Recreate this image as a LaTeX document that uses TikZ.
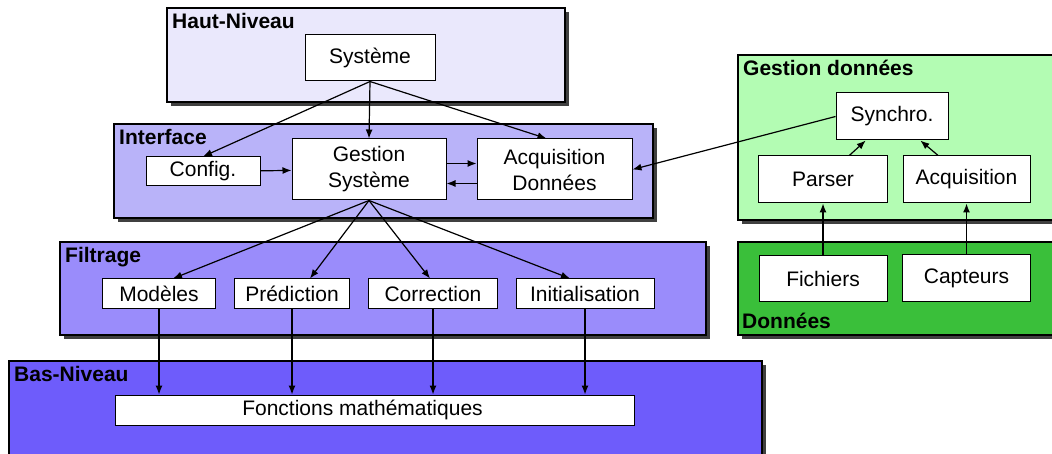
\documentclass[tikz,border=0pt]{standalone}
\usepackage{fontspec}
\setmainfont{Liberation Sans}
\usetikzlibrary{arrows.meta,shadows}
\definecolor{layerhaut}{HTML}{EAE8FC}
\definecolor{layerinterface}{HTML}{B9B3F9}
\definecolor{layerfiltrage}{HTML}{9A8CFB}
\definecolor{layerbas}{HTML}{6E5CFB}
\definecolor{layergestion}{HTML}{B3FCB3}
\definecolor{layerdonnees}{HTML}{3ABF3A}

\begin{document}
\begin{tikzpicture}[
  x=1pt,
  y=-1pt,
  every node/.style={font=\fontsize{21}{26}\selectfont, black},
  panel/.style={draw=black, line width=1.5pt,
                drop shadow={shadow xshift=4pt, shadow yshift=-4pt,
                             fill=black, opacity=0.75}},
  title/.style={font=\fontsize{21}{26}\selectfont\bfseries,
                anchor=north west, inner sep=5pt},
  block/.style={draw=black, fill=white, line width=1pt, align=center,
                inner sep=0pt},
  link/.style={black, line width=1.2pt, -{Latex[length=9pt, width=7pt]}}
]
  % ---- page frame -------------------------------------------------------
  \useasboundingbox (0,0) rectangle (1052,454);

  % ---- the layers --------------------------------------------------------
  \draw[panel, fill=layerhaut]      (167,8)   rectangle (565,102);
  \draw[panel, fill=layerinterface] (114,124) rectangle (653,218);
  \draw[panel, fill=layerfiltrage]  (60,242)  rectangle (706,335);
  \draw[panel, fill=layerbas]       (9,361)   rectangle (762,480);
  \draw[panel, fill=layergestion]   (738,55)  rectangle (1070,220);
  \draw[panel, fill=layerdonnees]   (738,242) rectangle (1070,335);

  \node[title] (thaut)      at (167,8)   {Haut-Niveau};
  \node[title] (tinterface) at (114,124) {Interface};
  \node[title] (tfiltrage)  at (60,242)  {Filtrage};
  \node[title] (tbas)       at (9,361)   {Bas-Niveau};
  \node[title] (tgestion)   at (738,55)  {Gestion données};
  \node[title, anchor=south west, inner sep=4pt] (tdonnees) at (738,333)
    {Données};

  % ---- blocks ------------------------------------------------------------
  \node[block, minimum width=130pt, minimum height=46pt] (sys) at (370,58)
    {Système};
  \node[block, minimum width=114pt, minimum height=29pt] (cfg) at (203,171.5)
    {Config.};
  \node[block, minimum width=154pt, minimum height=61pt] (gs) at (369,169.5)
    {Gestion\\Système};
  \node[block, minimum width=155pt, minimum height=61pt] (acq) at (554.5,169.5)
    {Acquisition\\Données};

  \node[block, minimum width=113pt, minimum height=30pt] (mod)  at (159,294)
    {Modèles};
  \node[block, minimum width=115pt, minimum height=30pt] (pred) at (292,294)
    {Prédiction};
  \node[block, minimum width=129pt, minimum height=30pt] (corr) at (433,294)
    {Correction};
  \node[block, minimum width=138pt, minimum height=30pt] (init) at (585,294)
    {Initialisation};
  \node[block, minimum width=519pt, minimum height=30pt] (fm) at (374.5,410)
    {Fonctions mathématiques\hspace*{24pt}};

  \node[block, minimum width=112pt, minimum height=47pt] (syn)  at (892,116.5)
    {Synchro.};
  \node[block, minimum width=129pt, minimum height=47pt] (par)  at (823,179.5)
    {Parser};
  \node[block, minimum width=127pt, minimum height=47pt] (acqc) at (966.5,179.5)
    {Acquisition};
  \node[block, minimum width=128pt, minimum height=46pt] (fic)  at (823,279)
    {Fichiers};
  \node[block, minimum width=128pt, minimum height=47pt] (cap)  at (966.5,278.5)
    {Capteurs};

  % ---- links from the top ------------------------------------------------
  \draw[link] (sys.south) -- (cfg.north);
  \draw[link] (sys.south) -- (gs.north);
  \draw[link] (sys.south) -- ([xshift=-8pt]acq.north);
  \draw[link] (cfg) -- (gs);
  \draw[link] ([yshift=6pt]gs.east) -- ([yshift=6pt]acq.west);
  \draw[link] ([yshift=-14pt]acq.west) -- ([yshift=-14pt]gs.east);

  % ---- links to the filters ----------------------------------------------
  \draw[link] (gs.south) -- ([xshift=14pt]mod.north);
  \draw[link] (gs.south) -- ([xshift=18pt]pred.north);
  \draw[link] (gs.south) -- ([xshift=-3pt]corr.north);
  \draw[link] (gs.south) -- ([xshift=-15pt]init.north);
  \foreach \f in {mod, pred, corr, init}
    \draw[link] (\f.south) -- (\f.south |- fm.north);

  % ---- data side ---------------------------------------------------------
  \draw[link] (syn.west) -- (acq.east);
  \draw[link] (par) -- (syn);
  \draw[link] (acqc) -- (syn);
  \draw[link] (fic) -- (par);
  \draw[link] (cap) -- (acqc);

\end{tikzpicture}
\end{document}
